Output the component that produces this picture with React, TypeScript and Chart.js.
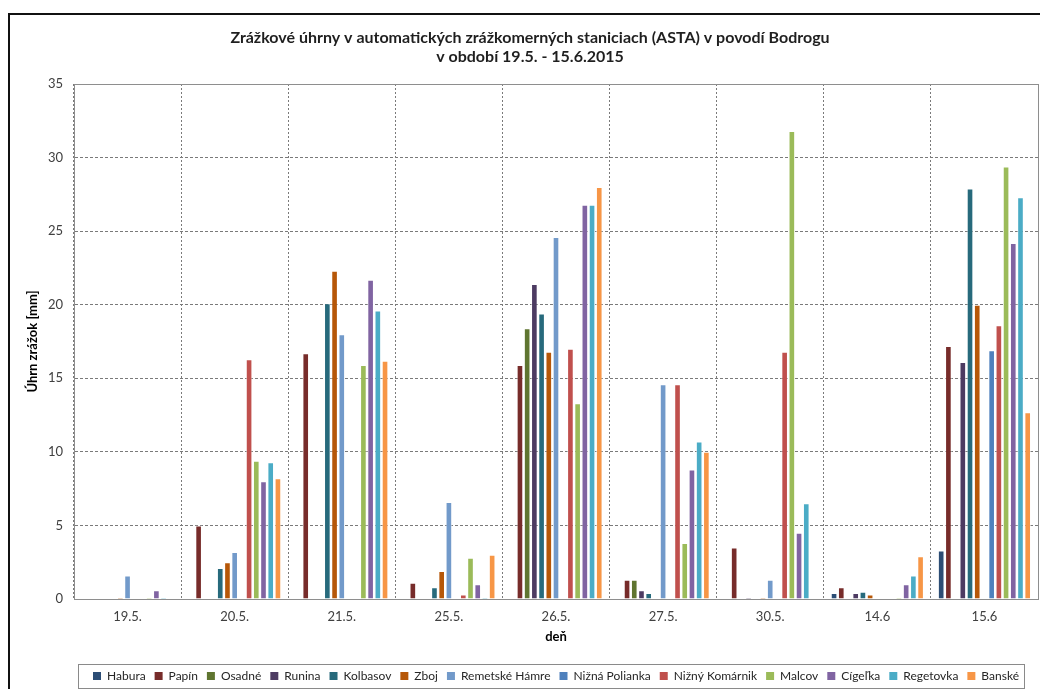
import React, { useEffect, useRef } from 'react';
import { Chart, registerables } from 'chart.js';

Chart.register(...registerables);

const categories = ['19.5.', '20.5.', '21.5.', '25.5.', '26.5.', '27.5.', '30.5.', '14.6', '15.6'];

const habura = [0, 0, 0, 0, 0, 0, 0, 0.4, 3.3];
const papin = [0, 5.0, 16.7, 1.1, 15.9, 1.3, 3.5, 0.8, 17.2];
const osadne = [0, 0, 0, 0, 18.4, 1.3, 0, 0, 0];
const runina = [0, 0, 0, 0, 21.4, 0.6, 0.1, 0.4, 16.1];
const kolbasov = [0, 2.1, 20.1, 0.8, 19.4, 0.4, 0, 0.5, 27.9];
const zboj = [0.1, 2.5, 22.3, 1.9, 16.8, 0, 0.1, 0.3, 20.0];
const remetskeHamre = [1.6, 3.2, 18.0, 6.6, 24.6, 14.6, 1.3, 0, 0];
const niznaPolianka = [0, 0, 0, 0, 0, 0, 0, 0, 16.9];
const niznyKomarnik = [0, 16.3, 0, 0.3, 17.0, 14.6, 16.8, 0, 18.6];
const malcov = [0.1, 9.4, 15.9, 2.8, 13.3, 3.8, 31.8, 0.1, 29.4];
const cigelka = [0.6, 8.0, 21.7, 1.0, 26.8, 8.8, 4.5, 1.0, 24.2];
const regetovka = [0.1, 9.3, 19.6, 0.1, 26.8, 10.7, 6.5, 1.6, 27.3];
const banske = [0, 8.2, 16.2, 3.0, 28.0, 10.0, 0, 2.9, 12.7];

const seriesNames = [
  'Habura', 'Papín', 'Osadné', 'Runina', 'Kolbasov', 'Zboj', 'Remetské Hámre',
  'Nižná Polianka', 'Nižný Komárnik', 'Malcov', 'Cígeľka', 'Regetovka', 'Banské',
];
const seriesValues = [
  habura, papin, osadne, runina, kolbasov, zboj, remetskeHamre,
  niznaPolianka, niznyKomarnik, malcov, cigelka, regetovka, banske,
];
const seriesColors = [
  '#2C4D75', '#772C2A', '#5F7530', '#4D3B62', '#276A7C', '#B65708', '#729ACA',
  '#4F81BD', '#C0504D', '#9BBB59', '#8064A2', '#4BACC6', '#F79646',
];

const titleLines = [
  'Zrážkové úhrny v automatických zrážkomerných staniciach (ASTA) v povodí Bodrogu',
  'v období 19.5. - 15.6.2015',
];
const yTitle = 'Úhrn zrážok [mm]';
const xTitle = 'deň';
const yMin = 0;
const yMax = 35;
const yStep = 5;

Chart.defaults.font.family = 'Lato, "Open Sans", sans-serif';

const framePlugin = {
  id: 'frameAndLegendBox',
  afterLayout(chart: any) {
    const lg = chart.legend;
    if (lg) {
      const dx = 37;
      const dy = 3;
      lg.left += dx;
      lg.right += dx;
      lg.top += dy;
      lg.bottom += dy;
    }
    const tb = chart.titleBlock;
    if (tb) {
      tb.left += 11;
      tb.right += 11;
    }
  },
  afterDraw(chart: any) {
    const { ctx, chartArea: a } = chart;
    ctx.save();
    ctx.strokeStyle = '#8e8e8e';
    ctx.lineWidth = 1;
    ctx.setLineDash([]);
    ctx.strokeRect(Math.round(a.left) + 0.5, Math.round(a.top) + 0.5, Math.round(a.right - a.left), Math.round(a.bottom - a.top));
    const hb = chart.legend && chart.legend.legendHitBoxes;
    if (hb && hb.length) {
      let minL = Infinity;
      let maxR = -Infinity;
      let cy = 0;
      hb.forEach((h: any) => {
        minL = Math.min(minL, h.left);
        maxR = Math.max(maxR, h.left + h.width);
        cy = h.top + h.height / 2;
      });
      ctx.strokeStyle = '#8a8a8a';
      ctx.strokeRect(Math.round(minL - 15) + 0.5, Math.round(cy - 12) + 0.5, Math.round(maxR - minL + 20), 24);
    }
    ctx.restore();
  },
};

export default function App() {
  const canvasRef = useRef<HTMLCanvasElement | null>(null);

  useEffect(() => {
    const canvas = canvasRef.current;
    if (!canvas) return;
    const chart = new Chart(canvas, {
      type: 'bar',
      data: {
        labels: categories,
        datasets: seriesNames.map((name, i) => ({
          label: name,
          data: seriesValues[i],
          backgroundColor: seriesColors[i],
          borderColor: 'rgba(255,255,255,0.55)',
          borderWidth: 1,
          categoryPercentage: 0.875,
          barPercentage: 0.92,
        })),
      },
      options: {
        responsive: false,
        animation: false,
        devicePixelRatio: 1,
        layout: { padding: { left: 0, right: 5, top: 0, bottom: 0 } },
        plugins: {
          tooltip: { enabled: false },
          title: {
            display: true,
            text: titleLines,
            color: '#1f1f1f',
            font: { size: 16, weight: 'bold', lineHeight: '19px' },
            padding: { top: 28.5, bottom: 17.5 },
          },
          legend: {
            position: 'bottom',
            labels: {
              boxWidth: 8,
              boxHeight: 8,
              padding: 9,
              color: '#262626',
              font: { size: 12 },
              generateLabels: (c: any) =>
                (Chart.defaults.plugins.legend.labels as any).generateLabels(c).map((l: any) => ({
                  ...l,
                  lineWidth: 0,
                  strokeStyle: 'rgba(0,0,0,0)',
                })),
            },
          },
        },
        scales: {
          x: {
            grid: { color: '#7a7a7a', drawTicks: false, offset: true, lineWidth: 1 },
            border: { display: true, color: '#8e8e8e', width: 1, dash: [2, 2] },
            ticks: { padding: 10, color: '#404040', font: { size: 13 } },
            title: {
              display: true,
              text: xTitle,
              color: '#000',
              font: { size: 13, weight: 'bold' },
              padding: { top: 0, bottom: 13 },
            },
            afterFit: (s: any) => {
              s.height = 59;
            },
          },
          y: {
            min: yMin,
            max: yMax,
            grid: { color: '#7a7a7a', drawTicks: false, lineWidth: 1 },
            border: { display: true, color: '#8e8e8e', width: 1, dash: [3, 2] },
            ticks: { stepSize: yStep, padding: 11, color: '#404040', font: { size: 13 } },
            title: {
              display: true,
              text: yTitle,
              color: '#000',
              font: { size: 13, weight: 'bold' },
              padding: { top: 25, bottom: 0 },
            },
            afterFit: (s: any) => {
              s.width = 74;
            },
          },
        },
      },
      plugins: [framePlugin],
    } as any);
    return () => chart.destroy();
  }, []);

  return (
    <div style={{ position: 'fixed', left: 0, top: 0, width: 1043, height: 689, background: '#fff', overflow: 'hidden' }}>
      <div
        style={{
          position: 'absolute',
          left: 8,
          top: 13,
          width: 1032,
          height: 720,
          borderTop: '2px solid #111',
          borderLeft: '2px solid #111',
          boxSizing: 'border-box',
        }}
      />
      <canvas
        ref={canvasRef}
        width={1043}
        height={689}
        style={{ position: 'absolute', left: 0, top: 0, width: 1043, height: 689 }}
      />
    </div>
  );
}
